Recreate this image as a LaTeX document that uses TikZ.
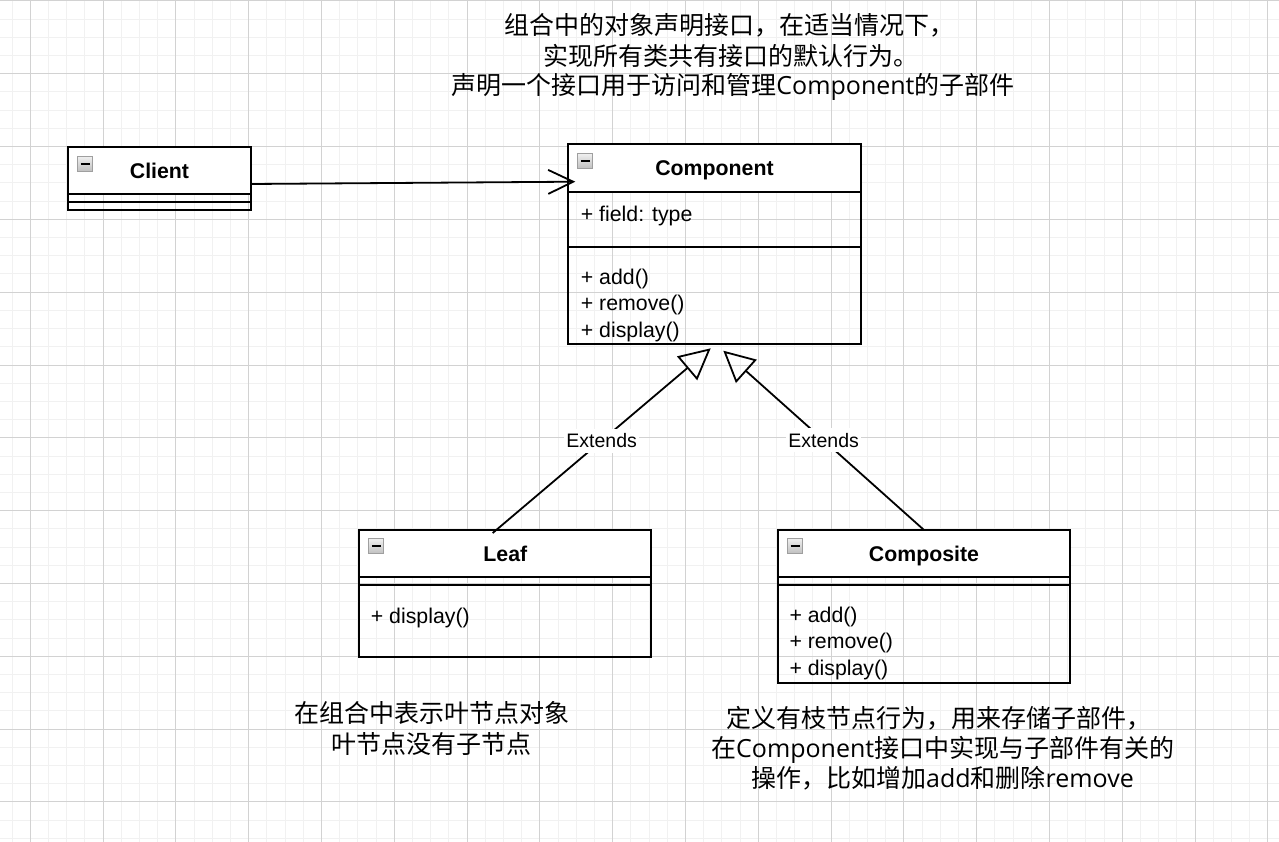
\documentclass[tikz,border=0pt]{standalone}
\usepackage{fontspec}
\setmainfont{Liberation Sans}
\newfontfamily\cjk{Noto Sans CJK SC}
\newfontfamily\lat{Open Sans}
\usetikzlibrary{arrows.meta}
\definecolor{gridminor}{HTML}{F1F1F1}
\definecolor{gridmajor}{HTML}{D2D2D2}
\begin{document}
\begin{tikzpicture}[x=1pt,y=-1pt,
  body/.style={draw=black, line width=1.8pt, inner sep=0pt, outer sep=0pt, anchor=north west},
  hdr/.style={draw=black, fill=white, line width=1.8pt, inner sep=0pt, outer sep=0pt, anchor=north west,
    font=\fontsize{21.3}{26}\selectfont\bfseries, text height=15.3pt, text depth=0pt},
  member/.style={inner sep=0pt, anchor=base west, font=\fontsize{21.3}{26}\selectfont},
  icon/.style={minimum size=15pt, inner sep=0pt, draw=gray!75, line width=1pt, top color=gray!12, bottom color=gray!50,
    path picture={\draw[black, line width=2pt] ([xshift=-4.5pt]path picture bounding box.center) -- ([xshift=4.5pt]path picture bounding box.center);}},
  assoc/.style={line width=1.8pt, -{Straight Barb[length=25pt, width=24pt]}},
  ext/.style={line width=1.8pt, -{Triangle[open, length=31pt, width=31pt]}},
  extlabel/.style={fill=white, inner xsep=2pt, inner ysep=5pt, font=\fontsize{19.5}{24}\selectfont, text height=14pt, text depth=0pt},
  cjktext/.style={inner sep=0pt, anchor=base, font=\cjk\fontsize{25}{30}\selectfont}
]
\useasboundingbox (0,0) rectangle (1279,842);
\fill[white] (0,0) rectangle (1279,842);
% grid
\foreach \i in {-1,...,68} {\pgfmathsetmacro\xx{30.3+18.2*\i}\draw[gridminor, line width=1pt] (\xx,0) -- (\xx,842);}
\foreach \j in {0,...,46} {\pgfmathsetmacro\yy{1+18.2*\j}\draw[gridminor, line width=1pt] (0,\yy) -- (1279,\yy);}
\foreach \i in {0,...,17} {\pgfmathsetmacro\xx{30.3+72.8*\i}\draw[gridmajor, line width=1pt] (\xx,0) -- (\xx,842);}
\foreach \j in {0,...,11} {\pgfmathsetmacro\yy{1+72.8*\j}\draw[gridmajor, line width=1pt] (0,\yy) -- (1279,\yy);}

% Client
\node[body, minimum width=182.4pt, minimum height=62.4pt] (client) at (68.3,147.3) {};
\node[hdr, minimum width=182.4pt, minimum height=47pt] (clientH) at (68.3,147.3) {Client};
\draw[line width=1.8pt] ([yshift=-55pt]client.north west) -- ([yshift=-55pt]client.north east);
\node[icon] (iconA) at ([xshift=17pt,yshift=-16.5pt]client.north west) {};

% Component
\node[body, minimum width=292.4pt, minimum height=200pt] (component) at (568.3,144) {};
\node[hdr, minimum width=292.4pt, minimum height=47.7pt] (componentH) at (568.3,144) {Component};
\draw[line width=1.8pt] ([yshift=-102.7pt]component.north west) -- ([yshift=-102.7pt]component.north east);
\node[icon] (iconB) at ([xshift=17pt,yshift=-17pt]component.north west) {};
\node[member] (cf) at (580.7,222) {+ field: type};
\node[member] (cm1) at (580.7,284) {+ add()};
\node[member] (cm2) at (580.7,310.5) {+ remove()};
\node[member] (cm3) at (580.7,337) {+ display()};

% Leaf
\node[body, minimum width=292pt, minimum height=126.7pt] (leaf) at (359.3,530) {};
\node[hdr, minimum width=292pt, minimum height=47.3pt] (leafH) at (359.3,530) {Leaf};
\draw[line width=1.8pt] ([yshift=-55pt]leaf.north west) -- ([yshift=-55pt]leaf.north east);
\node[icon] (iconC) at ([xshift=17pt,yshift=-16.3pt]leaf.north west) {};
\node[member] (lm1) at (370.7,623) {+ display()};

% Composite
\node[body, minimum width=292pt, minimum height=152.7pt] (composite) at (778,530) {};
\node[hdr, minimum width=292pt, minimum height=47.3pt] (compositeH) at (778,530) {Composite};
\draw[line width=1.8pt] ([yshift=-55pt]composite.north west) -- ([yshift=-55pt]composite.north east);
\node[icon] (iconD) at ([xshift=17pt,yshift=-16pt]composite.north west) {};
\node[member] (pm1) at (789.3,622.2) {+ add()};
\node[member] (pm2) at (789.3,648.8) {+ remove()};
\node[member] (pm3) at (789.3,675) {+ display()};

% connectors
\draw[assoc] ([yshift=-5.5pt]client.east) -- ([xshift=7pt,yshift=62.3pt]component.west);
\draw[ext] ([xshift=-12.6pt,yshift=-3pt]leaf.north) -- node[extlabel] (e1) {Extends} ([xshift=-3.8pt,yshift=-4.3pt]component.south);
\draw[ext] (composite.north) -- node[extlabel] (e2) {Extends} ([xshift=8.8pt,yshift=-6.7pt]component.south);

% notes
\node[cjktext] (t1) at (729,34.5) {组合中的对象声明接口，在适当情况下，};
\node[cjktext] (t2) at (731,65.5) {实现所有类共有接口的默认行为。};
\node[cjktext] (t3) at (733,94.5) {声明一个接口用于访问和管理{\lat Component}的子部件};
\node[cjktext] (n1) at (431.6,722) {在组合中表示叶节点对象};
\node[cjktext] (n2) at (431.6,753.5) {叶节点没有子节点};
\node[cjktext] (r1) at (939.2,727.5) {定义有枝节点行为，用来存储子部件，};
\node[cjktext] (r2) at (942.7,757.8) {在{\lat Component}接口中实现与子部件有关的};
\node[cjktext] (r3) at (942.5,787.8) {操作，比如增加{\lat add}和删除{\lat remove}};
\end{tikzpicture}
\end{document}
